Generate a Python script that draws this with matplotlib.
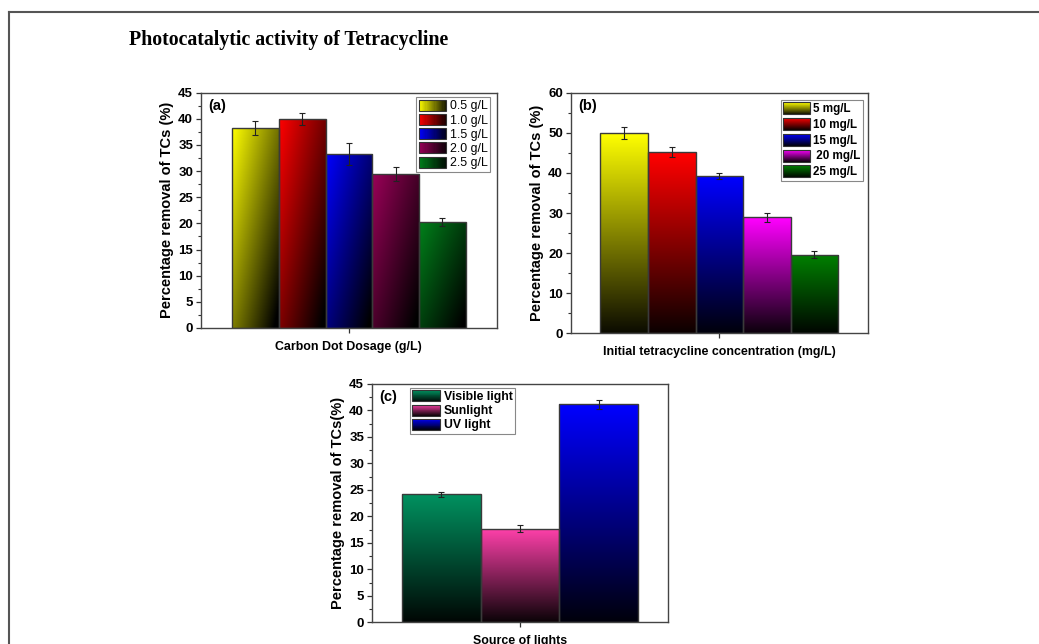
import numpy as np
import matplotlib
matplotlib.use("Agg")
import matplotlib.pyplot as plt
from matplotlib.patches import Rectangle
from matplotlib.legend_handler import HandlerBase
from matplotlib.lines import Line2D
from matplotlib.ticker import MultipleLocator, AutoMinorLocator
from matplotlib.colors import to_rgb

plt.rcParams['font.family'] = ['Liberation Sans', 'DejaVu Sans']
plt.rcParams['font.weight'] = 'bold'

# panel (a): carbon dot dosage
dosage_labels = ['0.5 g/L', '1.0 g/L', '1.5 g/L', '2.0 g/L', '2.5 g/L']
dosage_removal = [38.3, 40.0, 33.3, 29.4, 20.2]
dosage_err = [1.35, 1.2, 2.15, 1.35, 0.75]
dosage_colors = ['#ffff00', '#ff0000', '#0000ff', '#9a0058', '#00801a']

# panel (b): initial TC concentration
conc_labels = ['5 mg/L', '10 mg/L', '15 mg/L', ' 20 mg/L', '25 mg/L']
conc_removal = [50.0, 45.1, 39.2, 28.9, 19.6]
conc_err = [1.55, 1.25, 0.8, 1.2, 0.85]
conc_colors = ['#ffff00', '#ff0000', '#0000ff', '#ff00ff', '#008000']

# panel (c): light source
light_labels = ['Visible light', 'Sunlight', 'UV light']
light_removal = [24.15, 17.7, 41.2]
light_err = [0.4, 0.6, 0.85]
light_colors = ['#00915f', '#ff40aa', '#0000ff']


def grad_image(color, mode, n=64):
    c = np.array(to_rgb(color))
    xf = np.linspace(0, 1, n)[None, :]
    yf = np.linspace(0, 1, n)[:, None]
    if mode == 'diag':
        f = 1 - np.clip(0.55 * xf + 0.5 * (1 - yf), 0, 1)
    else:
        f = 0.05 + 0.95 * yf + 0 * xf
    return f[:, :, None] * c[None, None, :]


class GradHandler(HandlerBase):
    def __init__(self, color, mode, nstrip=24):
        super().__init__()
        self.color = np.array(to_rgb(color))
        self.mode = mode
        self.nstrip = nstrip

    def create_artists(self, legend, orig_handle, xdescent, ydescent,
                       width, height, fontsize, trans):
        arts = []
        n = self.nstrip
        x0, y0 = -xdescent, -ydescent
        for i in range(n):
            t = (i + 0.5) / n
            if self.mode == 'v':
                f = 0.05 + 0.95 * t
                r = Rectangle((x0, y0 + i * height / n), width, height / n * 1.05)
            else:
                f = 1 - 0.9 * t
                r = Rectangle((x0 + i * width / n, y0), width / n * 1.05, height)
            r.set_facecolor(self.color * f)
            r.set_edgecolor('none')
            r.set_transform(trans)
            arts.append(r)
        box = Rectangle((x0, y0), width, height, facecolor='none',
                        edgecolor='#333333', lw=0.8, transform=trans)
        arts.append(box)
        return arts


def panel(ax, labels, vals, errs, colors, width, mode, legmode, ylim, major,
          ylabel, xlabel, tag, leg_kw, leg_bold, leg_size):
    n = len(vals)
    xs = 0.5 + (np.arange(n) - (n - 1) / 2) * width
    bars = ax.bar(xs, vals, width=width, facecolor='none', edgecolor='#3a3a3a',
                  linewidth=1.0, zorder=3)
    for b, c in zip(bars, colors):
        x0, w, h = b.get_x(), b.get_width(), b.get_height()
        im = ax.imshow(grad_image(c, mode), extent=(x0, x0 + w, 0, h),
                       origin='lower', aspect='auto', zorder=2,
                       interpolation='bilinear')
        im.set_clip_path(b)
    ax.errorbar(xs, vals, yerr=errs, fmt='none', ecolor='#222222',
                elinewidth=0.8, capsize=2.4, capthick=0.8, zorder=4)
    ax.set_xlim(0, 1)
    ax.set_ylim(*ylim)
    ax.set_xticks([0.5])
    ax.set_xticklabels([])
    ax.yaxis.set_major_locator(MultipleLocator(major))
    ax.yaxis.set_minor_locator(AutoMinorLocator(2))
    ax.tick_params(axis='both', which='both', direction='out', top=False,
                   right=False, labelsize=9.5, color='#333333', pad=2)
    ax.tick_params(which='major', length=3.5, width=0.9)
    ax.tick_params(which='minor', length=2, width=0.8)
    for s in ax.spines.values():
        s.set_linewidth(1.0)
        s.set_color('#444444')
    ax.set_ylabel(ylabel, fontsize=10.5, fontweight='bold', labelpad=3)
    ax.set_xlabel(xlabel, fontsize=8.9, fontweight='bold', labelpad=4)
    ax.text(0.025, 0.975, tag, transform=ax.transAxes, va='top', ha='left',
            fontsize=10.5, fontweight='bold')
    hmap = {b: GradHandler(c, legmode) for b, c in zip(bars, colors)}
    leg = ax.legend(bars, labels, handler_map=hmap, fancybox=False,
                    edgecolor='#888888', framealpha=1, borderaxespad=0,
                    borderpad=0.2, handletextpad=0.3,
                    prop={'size': leg_size,
                          'weight': 'bold' if leg_bold else 'normal'},
                    **leg_kw)
    leg.get_frame().set_linewidth(0.8)
    leg.set_zorder(6)


fig = plt.figure(figsize=(10.39, 6.44), dpi=100)

ax_a = fig.add_axes([200.7 / 1039, 1 - 328 / 644, 296.3 / 1039, 235.3 / 644])
panel(ax_a, dosage_labels, dosage_removal, dosage_err, dosage_colors, 0.1576,
      'diag', 'h', (0, 45), 5, 'Percentage removal of TCs (%)',
      'Carbon Dot Dosage (g/L)', '(a)',
      dict(loc='upper right', bbox_to_anchor=(1 - 7 / 296, 1 - 4.5 / 235),
           handlelength=2.2, handleheight=1.0, labelspacing=0.12), False, 8.9)

ax_b = fig.add_axes([570.7 / 1039, 1 - 333.3 / 644, 297.3 / 1039, 240.6 / 644])
panel(ax_b, conc_labels, conc_removal, conc_err, conc_colors, 0.160,
      'v', 'v', (0, 60), 10, 'Percentage removal of TCs (%)',
      'Initial tetracycline concentration (mg/L)', '(b)',
      dict(loc='upper right', bbox_to_anchor=(1 - 5 / 297, 1 - 7 / 240),
           handlelength=2.3, handleheight=1.2, labelspacing=0.25), True, 8.4)

ax_c = fig.add_axes([371.7 / 1039, 1 - 622.3 / 644, 296.6 / 1039, 238.3 / 644])
panel(ax_c, light_labels, light_removal, light_err, light_colors, 0.266,
      'v', 'v', (0, 45), 5, 'Percentage removal of TCs(%)',
      'Source of lights', '(c)',
      dict(loc='upper left', bbox_to_anchor=(38 / 296.6, 1 - 4 / 238),
           handlelength=2.3, handleheight=1.0, labelspacing=0.12), True, 8.8)

fig.text(129 / 1039, 1 - 40 / 644, 'Photocatalytic activity of Tetracycline',
         family=['Liberation Serif', 'DejaVu Serif'], fontweight='bold',
         fontsize=14.3, va='center', ha='left')

# outer frame lines (top and left)
fig.add_artist(Line2D([8.5 / 1039, 1], [1 - 11.5 / 644] * 2, color='#555555', lw=1.5))
fig.add_artist(Line2D([8.5 / 1039] * 2, [0, 1 - 11.5 / 644], color='#555555', lw=1.5))

fig.savefig('out.png', dpi=100)
